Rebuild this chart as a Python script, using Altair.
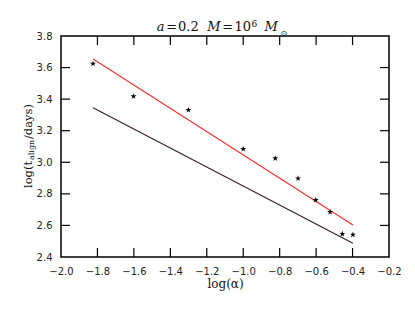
import altair as alt
import pandas as pd

# data
log_alpha = [-1.824, -1.602, -1.301, -1.0, -0.824, -0.699, -0.602, -0.523, -0.456, -0.398]
log_t = [3.625, 3.418, 3.331, 3.084, 3.025, 2.898, 2.761, 2.685, 2.546, 2.541]
red_x = [-1.824, -0.398]
red_y = [3.654, 2.603]
dark_x = [-1.824, -0.398]
dark_y = [3.346, 2.487]
x_ticks = [-2.0, -1.8, -1.6, -1.4, -1.2, -1.0, -0.8, -0.6, -0.4, -0.2]
y_ticks = [2.4, 2.6, 2.8, 3.0, 3.2, 3.4, 3.6, 3.8]

W, H = 328, 221
TL = 9

pts = pd.DataFrame({"x": log_alpha, "y": log_t})
red = pd.DataFrame({"x": red_x, "y": red_y})
dark = pd.DataFrame({"x": dark_x, "y": dark_y})
xt = pd.DataFrame({"x": x_ticks[1:-1]})
yt = pd.DataFrame({"y": y_ticks[1:-1]})

xs = alt.Scale(domain=[-2.0, -0.2], nice=False, zero=False)
ys = alt.Scale(domain=[2.4, 3.8], nice=False, zero=False)

xaxis = alt.Axis(values=x_ticks, format=".1f", ticks=False, domain=False, grid=False,
                 labelFont="DejaVu Sans", labelFontSize=10, labelColor="#222222",
                 labelPadding=9, title="log(α)", titleFont="DejaVu Serif",
                 titleFontSize=12, titleFontWeight="normal", titleColor="#111111",
                 titlePadding=2, labelFlush=False)
yaxis = alt.Axis(values=y_ticks, format=".1f", ticks=False, domain=False, grid=False,
                 labelFont="DejaVu Sans", labelFontSize=10, labelColor="#222222",
                 labelPadding=9, title=None, labelFlush=False)

X = alt.X("x:Q", scale=xs, axis=xaxis)
Y = alt.Y("y:Q", scale=ys, axis=yaxis)

star = ("M0,-1 L0.225,-0.309 L0.951,-0.309 L0.363,0.118 L0.588,0.809 L0,0.382 "
        "L-0.588,0.809 L-0.363,0.118 L-0.951,-0.309 L-0.225,-0.309 Z")

red_line = alt.Chart(red).mark_line(color="#ff2a2a", strokeWidth=1.1).encode(x=X, y=Y)
dark_line = alt.Chart(dark).mark_line(color="#3a1c25", strokeWidth=1.1).encode(x=X, y=Y)
points = alt.Chart(pts).mark_point(shape=star, filled=True, color="black", size=40, opacity=1).encode(x=X, y=Y)

bt = alt.Chart(xt).mark_rule(color="black", strokeWidth=1.2).encode(x=X, y=alt.value(H), y2=alt.value(H - TL))
tt = alt.Chart(xt).mark_rule(color="black", strokeWidth=1.2).encode(x=X, y=alt.value(0), y2=alt.value(TL))
lt = alt.Chart(yt).mark_rule(color="black", strokeWidth=1.2).encode(y=Y, x=alt.value(0), x2=alt.value(TL))
rt = alt.Chart(yt).mark_rule(color="black", strokeWidth=1.2).encode(y=Y, x=alt.value(W), x2=alt.value(W - TL))


def text_layer(df, **kw):
    return alt.Chart(df).mark_text(color="#111111", **kw).encode(
        text="t:N",
        x=alt.X("px:Q", scale=None),
        y=alt.Y("py:Q", scale=None),
        size=alt.Size("fs:Q", scale=None, legend=None),
    )


# y-axis title: log(t_align/days)
ytitle = text_layer(pd.DataFrame({
    "t": ["log(t", "align", "/days)"],
    "px": [-32.5, -29.0, -32.5],
    "py": [152, 124, 103],
    "fs": [11.5, 8, 11.5],
}), angle=270, align="left", baseline="middle", font="DejaVu Serif")

# chart title: a = 0.2  M = 10^6 M_sun
title_it = text_layer(pd.DataFrame({
    "t": ["a", "M", "M"],
    "px": [95.8, 146.2, 203.5],
    "py": [-5.3, -5.3, -5.3],
    "fs": [13, 13, 13],
}), align="left", baseline="alphabetic", font="DejaVu Serif", fontStyle="italic")
title_up = text_layer(pd.DataFrame({
    "t": ["=", "0.2", "=", "10", "6"],
    "px": [105.2, 117.0, 161.2, 173.5, 190.5],
    "py": [-5.3, -5.3, -5.3, -5.3, -9.5],
    "fs": [13, 13, 13, 13, 9],
}), align="left", baseline="alphabetic", font="DejaVu Serif")
title_sun = text_layer(pd.DataFrame({
    "t": ["⊙"],
    "px": [219.5],
    "py": [-2.2],
    "fs": [8],
}), align="left", baseline="middle", font="DejaVu Sans")

chart = alt.layer(dark_line, red_line, points, bt, tt, lt, rt, ytitle,
                  title_it, title_up, title_sun).properties(
    width=W, height=H,
    autosize=alt.AutoSizeParams(type="none"),
    padding={"left": 53, "top": 28, "right": 18, "bottom": 40},
).configure_view(stroke="black", strokeWidth=1.5)

chart.save("out.html", embed_options={"renderer": "svg", "actions": False})
